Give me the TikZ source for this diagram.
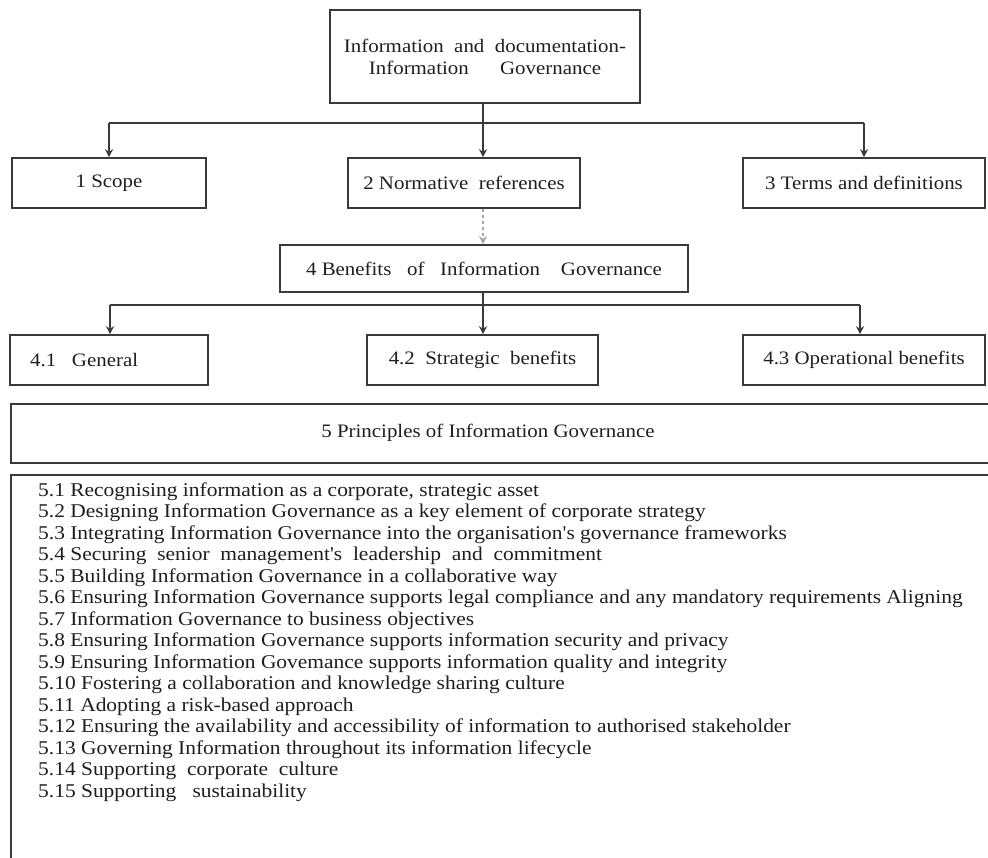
\documentclass[tikz,border=0pt]{standalone}
\usepackage{fontspec}
\setmainfont{Liberation Serif}
\newfontfamily\boxfont[FakeStretch=1.1]{Liberation Serif}
\newfontfamily\listfont[FakeStretch=1.1]{Liberation Serif}
\usetikzlibrary{arrows.meta}
\definecolor{linec}{HTML}{3A3A3A}
\definecolor{textc}{HTML}{1E1E1E}
\tikzset{
  box/.style={draw=linec, line width=1.6pt, rectangle, inner sep=0pt, text=textc, font=\boxfont\fontsize{19}{21}\selectfont},
  conn/.style={draw=linec, line width=1.3pt},
  arr/.style={conn, -{Stealth[length=8pt,width=8pt]}},
  dash arr/.style={draw=gray!70, line width=1.3pt, dash pattern=on 3pt off 3pt, -{Stealth[length=8pt,width=8pt,fill=linec]}},
  item/.style={anchor=base west, inner sep=0pt, text=textc, font=\listfont\fontsize{19.5}{21}\selectfont},
}
\begin{document}
\begin{tikzpicture}[x=1pt,y=-1pt]
\useasboundingbox (0,0) rectangle (988,857);
\clip (0,0) rectangle (988,857);
% top box
\node[box, minimum width=310pt, minimum height=93pt, align=center] (top) at (485,56.5)
  {Information\ \ and\ \ documentation-\\[1pt]Information\ \ \ \ \ \ Governance};
% first row
\node[box, minimum width=194pt, minimum height=50pt] (b1) at (109,183) {1 Scope};
\node[box, minimum width=232pt, minimum height=50pt] (b2) at (464,183) {2 Normative\ \ references};
\node[box, minimum width=242pt, minimum height=50pt] (b3) at (864,183) {3 Terms and definitions};
% box 4
\node[box, minimum width=408pt, minimum height=47pt] (b4) at (484,268.5) {4 Benefits\ \ \ of\ \ \ Information\ \ \ \ Governance};
% second row
\node[box, minimum width=198pt, minimum height=50pt] (c1) at (109,360) {};
\node[anchor=west, inner sep=0pt, text=textc, font=\boxfont\fontsize{19}{21}\selectfont] (c1t) at (30,360) {4.1\ \ \ General};
\node[box, minimum width=231pt, minimum height=50pt] (c2) at (482.5,360) {4.2\ \ Strategic\ \ benefits};
\node[box, minimum width=242pt, minimum height=50pt] (c3) at (864,360) {4.3 Operational benefits};
% principles
\node[box, line width=2.2pt, minimum width=990pt, minimum height=59pt, anchor=north west] (p5) at (10,403) {};
\node[inner sep=0pt, text=textc, font=\boxfont\fontsize{19}{21}\selectfont] (p5t) at (488,433) {5 Principles of Information Governance};
% list box
\node[box, line width=2.2pt, minimum width=1000pt, minimum height=420pt, anchor=north west] (lst) at (10,474) {};
% connectors
\coordinate (j1) at (483,123);
\coordinate (j2) at (483,305);
\draw[conn] (top.south -| j1) -- (j1);
\draw[conn] (j1 -| b1.north) -- (j1 -| b3.north);
\draw[arr] (j1 -| b1.north) -- (b1.north);
\draw[arr] (j1) -- (j1 |- b2.north);
\draw[arr] (j1 -| b3.north) -- (b3.north);
\draw[dash arr] (j1 |- b2.south) -- (j1 |- b4.north);
\coordinate (k1) at (110,305);
\coordinate (k3) at (860,305);
\draw[conn] (j1 |- b4.south) -- (j2);
\draw[conn] (k1) -- (k3);
\draw[arr] (k1) -- (k1 |- c1.north);
\draw[arr] (j2) -- (j2 |- c2.north);
\draw[arr] (k3) -- (k3 |- c3.north);
% list items
\node[item] (i1) at (38,496) {5.1 Recognising information as a corporate, strategic asset};
\node[item] (i2) at (38,517.5) {5.2 Designing Information Governance as a key element of corporate strategy};
\node[item] (i3) at (38,539) {5.3 Integrating Information Governance into the organisation's governance frameworks};
\node[item] (i4) at (38,560.5) {5.4 Securing\ \ senior\ \ management's\ \ leadership\ \ and\ \ commitment};
\node[item] (i5) at (38,582) {5.5 Building Information Governance in a collaborative way};
\node[item] (i6) at (38,603.5) {5.6 Ensuring Information Governance supports legal compliance and any mandatory requirements Aligning};
\node[item] (i7) at (38,625) {5.7 Information Governance to business objectives};
\node[item] (i8) at (38,646.5) {5.8 Ensuring Information Governance supports information security and privacy};
\node[item] (i9) at (38,668) {5.9 Ensuring Information Govemance supports information quality and integrity};
\node[item] (i10) at (38,689.5) {5.10 Fostering a collaboration and knowledge sharing culture};
\node[item] (i11) at (38,711) {5.11 Adopting a risk-based approach};
\node[item] (i12) at (38,732.5) {5.12 Ensuring the availability and accessibility of information to authorised stakeholder};
\node[item] (i13) at (38,754) {5.13 Governing Information throughout its information lifecycle};
\node[item] (i14) at (38,775.5) {5.14 Supporting\ \ corporate\ \ culture};
\node[item] (i15) at (38,797) {5.15 Supporting\ \ \ sustainability};
\end{tikzpicture}
\end{document}
